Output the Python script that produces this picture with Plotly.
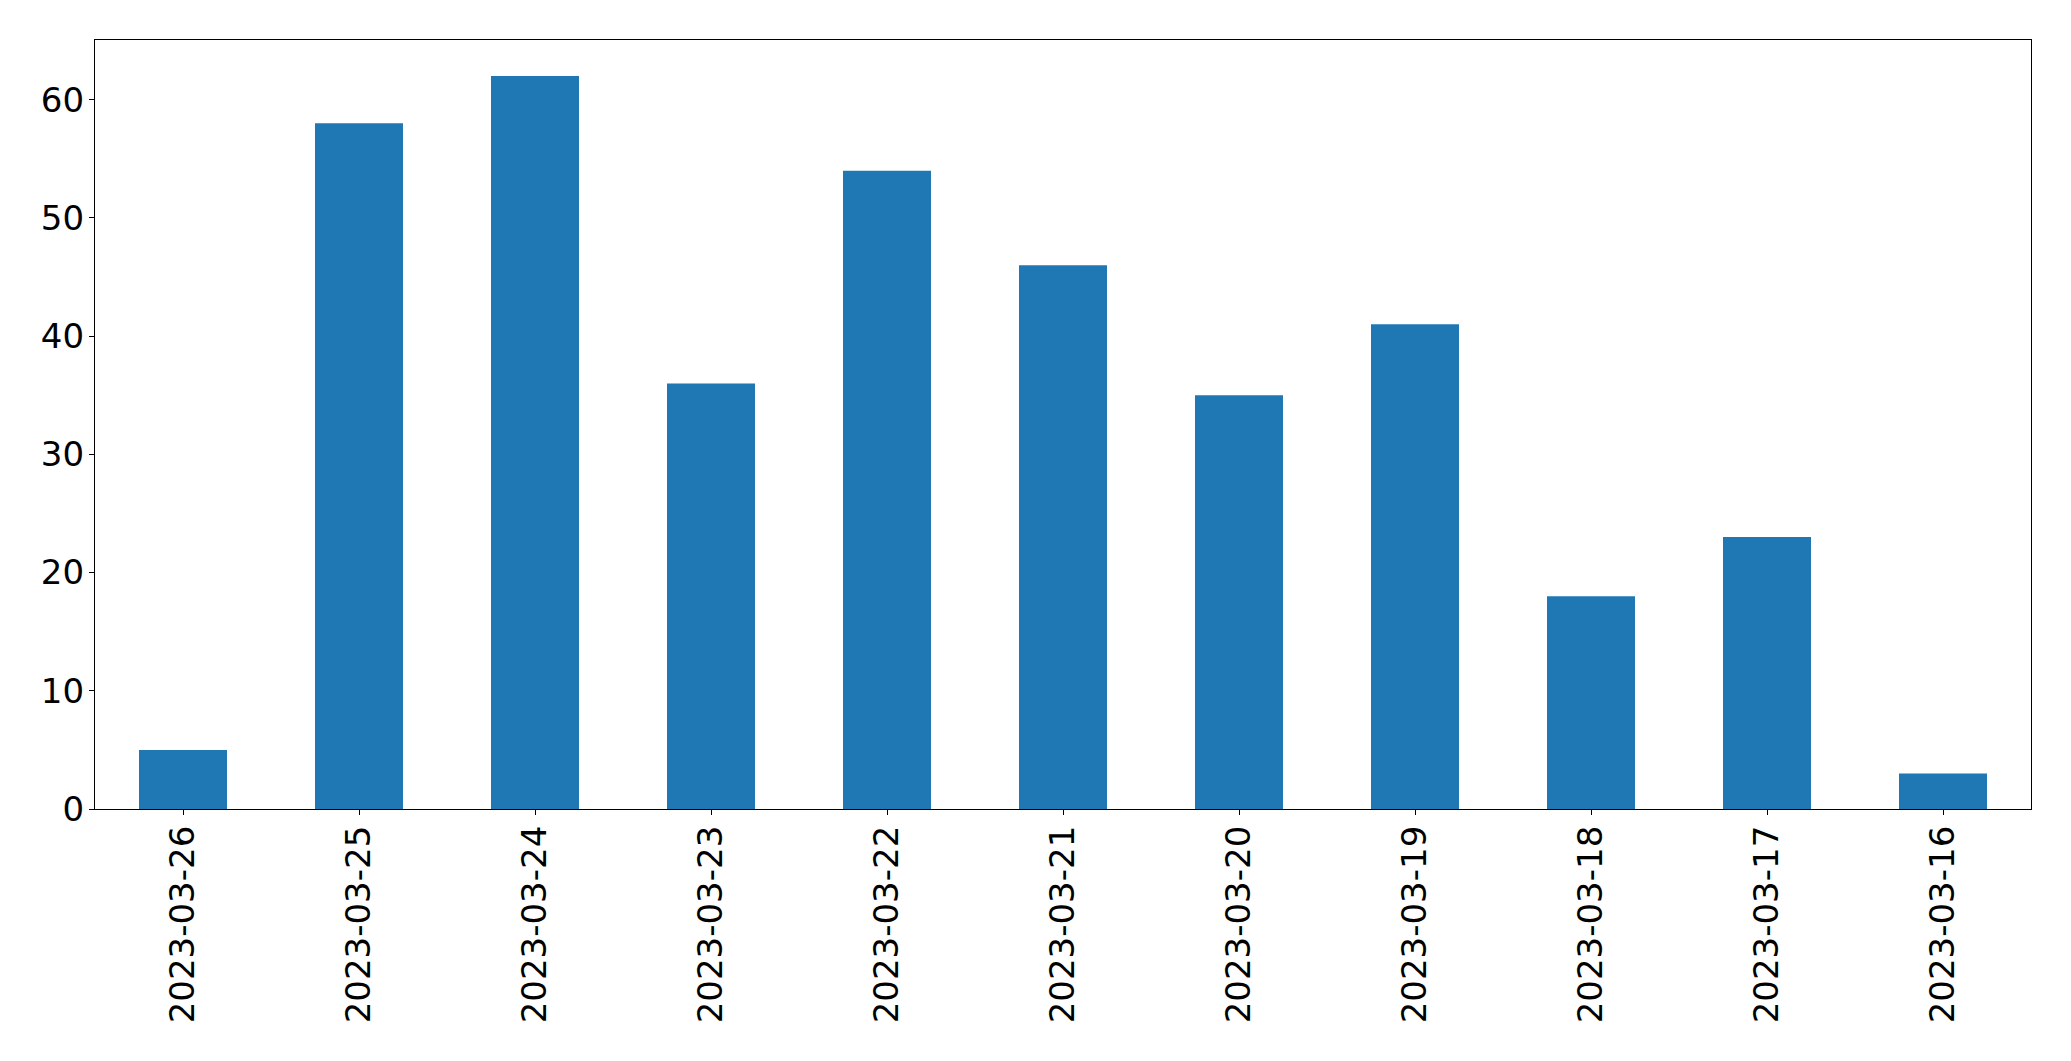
import plotly.graph_objects as go

dates = ["2023-03-26", "2023-03-25", "2023-03-24", "2023-03-23", "2023-03-22", "2023-03-21",
         "2023-03-20", "2023-03-19", "2023-03-18", "2023-03-17", "2023-03-16"]
counts = [5, 58, 62, 36, 54, 46, 35, 41, 18, 23, 3]
yticks = [0, 10, 20, 30, 40, 50, 60]

fig = go.Figure(go.Bar(x=dates, y=counts, width=0.5, marker=dict(color="#1f77b4", line=dict(width=0))))

font = dict(family="DejaVu Sans", size=34, color="black")
# page body has an 8px default margin; compensate
fig.update_layout(
    width=2063, height=1053,
    margin=dict(l=86.5, r=39.5, t=31.5, b=252, pad=0),
    plot_bgcolor="white", paper_bgcolor="white",
    showlegend=False,
    font=font,
)
fig.update_xaxes(
    type="category", range=[-0.5, 10.5], tickangle=-90,
    showline=True, linecolor="black", linewidth=1.3, mirror=True,
    ticks="outside", ticklen=5, tickwidth=1.3, tickcolor="black",
    showgrid=False, tickfont=font, ticklabelstandoff=-3,
)
fig.update_yaxes(
    range=[0, 65.05], tickvals=yticks,
    showline=True, linecolor="black", linewidth=1.3, mirror=True,
    ticks="outside", ticklen=5, tickwidth=1.3, tickcolor="black",
    showgrid=False, zeroline=False, tickfont=font, ticklabelstandoff=-2,
)
fig.write_html("out.html")
